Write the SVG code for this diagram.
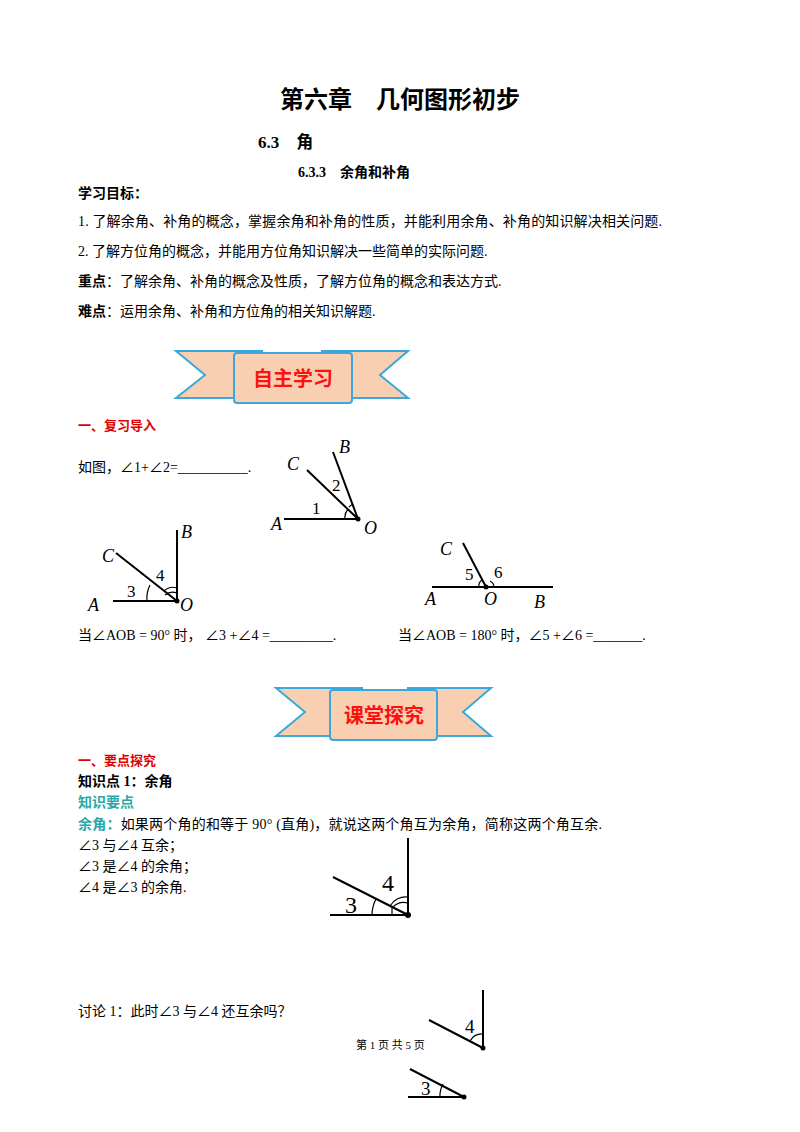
<svg xmlns="http://www.w3.org/2000/svg" width="800" height="1132" viewBox="0 0 800 1132">
<style>
text{font-family:"Liberation Serif","Noto Sans CJK SC",serif;fill:#000}
.t{font-size:14px}
.b{font-weight:bold}
.red{fill:#e00000;font-weight:bold;font-size:13px;font-family:"Noto Sans CJK SC",sans-serif}
.teal{fill:#2aa8a8;font-weight:bold}
.rib{fill:#f8cfb0;stroke:#3aa8dc;stroke-width:2}
.bt{fill:#ff1010;font-weight:bold;font-size:20px;font-family:"Noto Sans CJK SC",sans-serif}
.l{stroke:#000;stroke-width:2;fill:none}
.a{stroke:#000;stroke-width:1.2;fill:none}
.lb{font-size:18px;font-style:italic}
.n{font-size:17px}
</style>
<rect width="800" height="1132" fill="#fff"/>
<text x="400" y="108" text-anchor="middle" class="b" font-size="24">第六章　几何图形初步</text>
<text x="258" y="148" class="b" font-size="17">6.3　角</text>
<text x="298" y="177" class="b" font-size="14">6.3.3　余角和补角</text>
<text x="78" y="198" class="t b" font-size="13">学习目标：</text>
<text x="78" y="226" class="t" textLength="584">1. 了解余角、补角的概念，掌握余角和补角的性质，并能利用余角、补角的知识解决相关问题.</text>
<text x="78" y="256" class="t">2. 了解方位角的概念，并能用方位角知识解决一些简单的实际问题.</text>
<text x="78" y="286" class="t"><tspan class="b">重点</tspan>：了解余角、补角的概念及性质，了解方位角的概念和表达方式.</text>
<text x="78" y="316" class="t"><tspan class="b">难点</tspan>：运用余角、补角和方位角的相关知识解题.</text>
<g id="banner1">
<path class="rib" d="M176,351 H262 V398 H176 L205,375 Z"/>
<path class="rib" d="M322,351 H408 L380,375 L408,398 H322 Z"/>
<rect class="rib" x="234" y="353" width="118" height="50" rx="3"/>
<text x="293" y="386" text-anchor="middle" class="bt">自主学习</text>
</g>
<text x="78" y="430" class="red">一、复习导入</text>
<text x="78" y="472" class="t">如图，∠1+∠2=__________.</text>
<g id="fig1">
<path class="l" d="M284,519 H358 M307,470 L358,519 M333,452 L358,519"/>
<path class="a" d="M345,519 A13,13 0 0 1 348,509 M349,507 A16,16 0 0 1 353,504"/>
<circle cx="358" cy="519" r="2.5"/>
<text x="271" y="530" class="lb">A</text><text x="364" y="534" class="lb">O</text>
<text x="287" y="470" class="lb">C</text><text x="339" y="453" class="lb">B</text>
<text x="312" y="514" class="n">1</text><text x="332" y="491" class="n">2</text>
</g>
<g id="fig2">
<path class="l" d="M113,601 H177 V530 M116,553 L177,601"/>
<path class="a" d="M147,601 A30,30 0 0 1 150,585 M164,591 A13,13 0 0 1 177,588 M165,595 A12,12 0 0 1 177,593"/>
<circle cx="177" cy="601" r="2.5"/>
<text x="88" y="611" class="lb">A</text><text x="180" y="611" class="lb">O</text>
<text x="102" y="562" class="lb">C</text><text x="181" y="538" class="lb">B</text>
<text x="127" y="597" class="n">3</text><text x="156" y="581" class="n">4</text>
</g>
<g id="fig3">
<path class="l" d="M432,587 H553 M463,543 L486,587"/>
<path class="a" d="M479,587 A7,7 0 0 1 482,580 M490,581 A7,7 0 0 1 494,587"/>
<circle cx="486" cy="587" r="2.5"/>
<text x="425" y="605" class="lb">A</text><text x="484" y="605" class="lb">O</text><text x="534" y="608" class="lb">B</text>
<text x="440" y="555" class="lb">C</text>
<text x="465" y="580" class="n">5</text><text x="494" y="578" class="n">6</text>
</g>
<text x="78" y="640" class="t">当∠AOB = 90°  时，  ∠3 +∠4 =_________.</text>
<text x="398" y="640" class="t">当∠AOB = 180°  时，∠5 +∠6 =_______.</text>
<g id="banner2">
<path class="rib" d="M276,688 H362 V736 H276 L305,712 Z"/>
<path class="rib" d="M408,688 H491 L463,712 L491,736 H408 Z"/>
<rect class="rib" x="330" y="690" width="107" height="50" rx="3"/>
<text x="384" y="723" text-anchor="middle" class="bt">课堂探究</text>
</g>
<text x="78" y="765" class="red">一、要点探究</text>
<text x="78" y="786" class="t b" font-size="13">知识点 1：余角</text>
<text x="78" y="807" class="t teal">知识要点</text>
<text x="78" y="829" class="t" textLength="524"><tspan class="teal">余角：</tspan>如果两个角的和等于  90° (直角)，就说这两个角互为余角，简称这两个角互余.</text>
<text x="78" y="850" class="t">∠3  与∠4  互余；</text>
<text x="78" y="871" class="t">∠3  是∠4  的余角；</text>
<text x="78" y="892" class="t">∠4  是∠3  的余角.</text>
<g id="fig4">
<path class="l" d="M330,915 H408 V838 M333,877 L408,915"/>
<path class="a" d="M372,915 A36,36 0 0 1 376,899 M390,906 A18,18 0 0 1 408,897 M392,915 V908 M393,907 A15,15 0 0 1 408,903"/>
<circle cx="408" cy="915" r="3"/>
<text x="345" y="913" font-size="24">3</text><text x="382" y="891" font-size="24">4</text>
</g>
<text x="78" y="1016" class="t">讨论 1：此时∠3  与∠4  还互余吗？</text>
<text x="356" y="1049" font-size="11" font-family="Noto Sans CJK SC,sans-serif">第  1  页  共  5  页</text>
<g id="fig5">
<path class="l" d="M483,990 V1048 M429,1020 L483,1048 M408,1097 H464 M410,1069 L464,1097"/>
<path class="a" d="M470,1041 A14,14 0 0 1 483,1034 M440,1097 A24,24 0 0 1 443,1084"/>
<circle cx="483" cy="1048" r="2.5"/><circle cx="464" cy="1097" r="2.5"/>
<text x="465" y="1033" font-size="19">4</text><text x="421" y="1095" font-size="19">3</text>
</g>
</svg>
